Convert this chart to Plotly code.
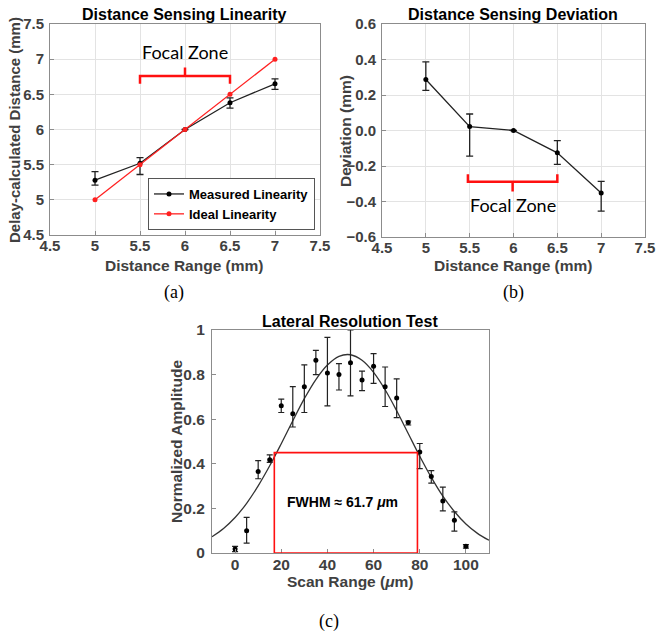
import plotly.graph_objects as go

# ---------------- data ----------------
dist = [5, 5.5, 6, 6.5, 7]
measured = [5.28, 5.52, 6.0, 6.38, 6.65]
measured_err_plus = [0.12, 0.08, 0.0, 0.07, 0.07]
measured_err_minus = [0.07, 0.16, 0.0, 0.075, 0.08]
ideal = [5, 5.5, 6, 6.5, 7]

deviation = [0.287, 0.022, 0.0, -0.126, -0.352]
deviation_err_plus = [0.10, 0.071, 0.0, 0.069, 0.065]
deviation_err_minus = [0.061, 0.166, 0.0, 0.065, 0.102]

scan = [0, 5, 10, 15, 20, 25, 30, 35, 40, 45, 50, 55, 60, 65, 70, 75, 80, 85, 90, 95, 100]
amp = [0.018, 0.10, 0.365, 0.418, 0.66, 0.625, 0.746, 0.864, 0.807, 0.80, 0.853,
       0.776, 0.837, 0.746, 0.695, 0.585, 0.453, 0.343, 0.233, 0.147, 0.030]
amp_err_plus = [0.012, 0.06, 0.049, 0.022, 0.03, 0.121, 0.098, 0.045, 0.16, 0.049, 0.147,
                0.04, 0.057, 0.088, 0.086, 0.007, 0.038, 0.026, 0.062, 0.037, 0.008]
amp_err_minus = [0.012, 0.056, 0.032, 0.012, 0.03, 0.06, 0.116, 0.064, 0.147, 0.069, 0.148,
                 0.048, 0.076, 0.089, 0.088, 0.011, 0.075, 0.03, 0.044, 0.049, 0.008]

fit_x = [-10, -5, 0, 5, 10, 15, 20, 25, 30, 35, 40, 45, 50, 55, 60, 65, 70, 75, 80,
         85, 90, 95, 100, 105, 110]
fit_y = [0.073, 0.110, 0.159, 0.223, 0.301, 0.391, 0.490, 0.593, 0.692, 0.778, 0.843,
         0.882, 0.889, 0.864, 0.810, 0.732, 0.638, 0.536, 0.434, 0.339, 0.255, 0.186,
         0.130, 0.088, 0.057]

fwhm_left, fwhm_right, half_max = 17, 79, 0.45
focal_start, focal_end = 5.5, 6.5

# ---------------- figure ----------------
W, H = 656, 634
fig = go.Figure()

SANS = "Liberation Sans, Arial, sans-serif"
TICKFONT = dict(family=SANS, size=15, color="#404040", weight="bold")
AXCOL = "#8c8c8c"
GRIDCOL = "#e3e3e3"

def px_to_x(p):
    return p / W

def px_to_y(p):
    return 1 - p / H

# Panel (a)
fig.add_trace(go.Scatter(
    x=dist, y=measured, mode="lines+markers", name="Measured Linearity",
    line=dict(color="#222222", width=1.3), marker=dict(color="black", size=5),
    error_y=dict(type="data", symmetric=False, array=measured_err_plus,
                 arrayminus=measured_err_minus, color="#222222", thickness=1.3, width=3.5),
    xaxis="x", yaxis="y"))
fig.add_trace(go.Scatter(
    x=dist, y=ideal, mode="lines+markers", name="Ideal Linearity",
    line=dict(color="#ff2020", width=1.3), marker=dict(color="#ff2020", size=5),
    xaxis="x", yaxis="y"))

# Panel (b)
fig.add_trace(go.Scatter(
    x=dist, y=deviation, mode="lines+markers", showlegend=False,
    line=dict(color="#222222", width=1.3), marker=dict(color="black", size=5),
    error_y=dict(type="data", symmetric=False, array=deviation_err_plus,
                 arrayminus=deviation_err_minus, color="#222222", thickness=1.3, width=3.5),
    xaxis="x2", yaxis="y2"))

# Panel (c)
fig.add_trace(go.Scatter(
    x=fit_x, y=fit_y, mode="lines", showlegend=False, line_shape="spline",
    line=dict(color="#333333", width=1.3), xaxis="x3", yaxis="y3"))
fig.add_trace(go.Scatter(
    x=scan, y=amp, mode="markers", showlegend=False,
    marker=dict(color="black", size=5),
    error_y=dict(type="data", symmetric=False, array=amp_err_plus,
                 arrayminus=amp_err_minus, color="#222222", thickness=1.2, width=3),
    xaxis="x3", yaxis="y3"))

def axis(domain, rng, dtick, anchor, grid=True, standoff=0):
    return dict(domain=domain, range=rng, dtick=dtick, tick0=0, anchor=anchor,
                showline=True, linecolor=AXCOL, linewidth=1, mirror=True,
                ticks="inside", ticklen=4, tickcolor=AXCOL,
                showgrid=grid, gridcolor=GRIDCOL, zeroline=False,
                tickfont=TICKFONT, ticklabelstandoff=standoff, automargin=False)

xa = axis([px_to_x(50), px_to_x(320)], [4.5, 7.5], 0.5, "y", standoff=-3)
ya = axis([px_to_y(235), px_to_y(24)], [4.5, 7.5], 0.5, "x", standoff=2)
xb = axis([px_to_x(382), px_to_x(645)], [4.5, 7.5], 0.5, "y2", standoff=-3)
yb = axis([px_to_y(237), px_to_y(24)], [-0.6, 0.6], 0.2, "x2", standoff=2)
xc = axis([px_to_x(212), px_to_x(489)], [-10, 110], 20, "y3", grid=False, standoff=-3)
yc = axis([px_to_y(553), px_to_y(330)], [0, 1], 0.2, "x3", grid=False, standoff=3)
yb["tickformat"] = ".1f"
yc["tickformat"] = "~g"
xc["tickfont"] = dict(TICKFONT, size=15.5)
yc["tickfont"] = dict(TICKFONT, size=15.5)

fig.update_layout(
    width=W, height=H, margin=dict(l=0, r=0, t=0, b=0, pad=0, autoexpand=False),
    paper_bgcolor="white", plot_bgcolor="white",
    xaxis=xa, yaxis=ya, xaxis2=xb, yaxis2=yb, xaxis3=xc, yaxis3=yc,
    showlegend=True,
    legend=dict(x=px_to_x(315), y=px_to_y(230), xanchor="right", yanchor="bottom",
                bgcolor="white", bordercolor="#555555", borderwidth=1,
                font=dict(family=SANS, size=13, color="black", weight="bold"),
                tracegroupgap=0, itemwidth=30),
)

# Shapes: focal zone brackets and FWHM box
shapes = [
    dict(type="path", xref="x", yref="y",
         path=f"M {focal_start},6.65 L {focal_start},6.76 L {focal_end},6.76 L {focal_end},6.65 "
              f"M {(focal_start + focal_end) / 2},6.76 L {(focal_start + focal_end) / 2},6.88",
         line=dict(color="#ff1010", width=2.5)),
    dict(type="path", xref="x2", yref="y2",
         path=f"M 5.48,-0.246 L 5.48,-0.289 L {focal_end},-0.289 L {focal_end},-0.246 "
              f"M 5.99,-0.289 L 5.99,-0.344",
         line=dict(color="#ff1010", width=2.5)),
    dict(type="rect", xref="x3", yref="y3", x0=fwhm_left, x1=fwhm_right, y0=0, y1=half_max,
         line=dict(color="#ff1010", width=1.6)),
]
fig.update_layout(shapes=shapes)

TITLE = dict(family=SANS, size=16, color="black", weight="bold")
AXT = dict(family=SANS, size=15.5, color="#404040", weight="bold")
CAP = dict(family="Liberation Serif, Times New Roman, serif", size=18, color="black")

def ann(text, x, y, font, angle=0):
    return dict(text=text, x=px_to_x(x), y=px_to_y(y), xref="paper", yref="paper",
                showarrow=False, xanchor="center", yanchor="middle", font=font,
                textangle=angle)

annotations = [
    ann("Distance Sensing Linearity", 184, 15, TITLE),
    ann("Distance Range (mm)", 184, 265, AXT),
    ann("Delay-calculated Distance (mm)", 14, 130, dict(AXT, size=15), -90),
    ann("(a)", 174, 292, CAP),
    ann("Distance Sensing Deviation", 513, 15, TITLE),
    ann("Distance Range (mm)", 513, 265, AXT),
    ann("Deviation (mm)", 345, 131, AXT, -90),
    ann("(b)", 513, 292, CAP),
    ann("Lateral Resolution Test", 350, 321, TITLE),
    ann("Scan Range (<i>μ</i>m)", 350, 581, AXT),
    ann("Normalized Amplitude", 176, 442, AXT, -90),
    ann("(c)", 329, 621, CAP),
    dict(text="Focal Zone", x=6.0, y=7.10, xref="x", yref="y", showarrow=False,
         font=dict(family="Lato, Noto Sans", size=18, color="black")),
    dict(text="Focal Zone", x=5.99, y=-0.422, xref="x2", yref="y2", showarrow=False,
         font=dict(family="Lato, Noto Sans", size=18, color="black")),
    dict(text="FWHM ≈ 61.7 <i>μ</i>m", x=46.5, y=0.23, xref="x3", yref="y3",
         showarrow=False, font=dict(family=SANS, size=14, color="black", weight="bold")),
]
fig.update_layout(annotations=annotations)

fig.write_html(
    "out.html",
    config={"displayModeBar": False},
    post_script="document.body.style.margin='0';document.documentElement.style.overflow='hidden';",
)
